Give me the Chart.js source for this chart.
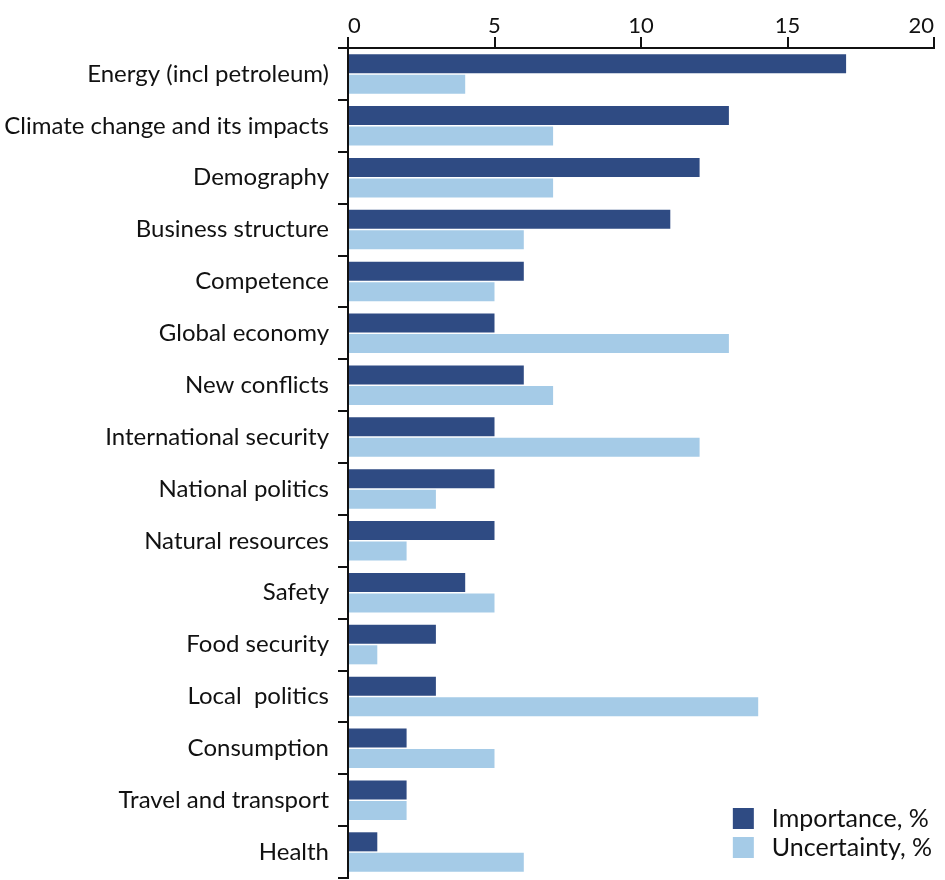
<!DOCTYPE html>
<html lang="en">
<head>
    <meta charset="UTF-8">
    <title>Importance and uncertainty of drivers</title>
    <script src="https://cdn.jsdelivr.net/npm/chart.js"></script>
    <style>
        body {
            margin: 0;
            background: #fff;
        }
        #chart {
            display: block;
        }
    </style>
</head>
<body>
    <canvas id="chart" width="945" height="880"></canvas>

    <script>
        const categories = [
            'Energy (incl petroleum)',
            'Climate change and its impacts',
            'Demography',
            'Business structure',
            'Competence',
            'Global economy',
            'New conflicts',
            'International security',
            'National politics',
            'Natural resources',
            'Safety',
            'Food security',
            'Local  politics',
            'Consumption',
            'Travel and transport',
            'Health'
        ];
        const importance = [17, 13, 12, 11, 6, 5, 6, 5, 5, 5, 4, 3, 3, 2, 2, 1];
        const uncertainty = [4, 7, 7, 6, 5, 13, 7, 12, 3, 2, 5, 1, 14, 5, 2, 6];
        const xTicks = [0, 5, 10, 15, 20];

        const FONT = 'Lato, "Open Sans", sans-serif';

        // legend drawn in the lower right corner of the plot area
        const cornerLegend = {
            id: 'cornerLegend',
            afterDraw(chart) {
                const ctx = chart.ctx;
                const area = chart.chartArea;
                const sets = chart.data.datasets;
                ctx.save();
                ctx.font = '25px ' + FONT;
                ctx.textBaseline = 'middle';
                ctx.textAlign = 'left';
                let maxW = 0;
                sets.forEach(ds => { maxW = Math.max(maxW, ctx.measureText(ds.label).width); });
                const textX = area.right - 2 - maxW;
                const boxX = textX - 39;
                const rowH = 29;
                const top = area.bottom - 70;
                sets.forEach((ds, i) => {
                    const y = top + i * rowH;
                    ctx.fillStyle = ds.backgroundColor;
                    ctx.fillRect(boxX, y, 21, 21);
                    ctx.fillStyle = '#111';
                    ctx.fillText(ds.label, textX, y + 11);
                });
                ctx.restore();
            }
        };

        new Chart(document.getElementById('chart'), {
            type: 'bar',
            data: {
                labels: categories,
                datasets: [{
                    label: 'Importance, %',
                    data: importance,
                    backgroundColor: '#2f4b83',
                    barPercentage: 0.93,
                    categoryPercentage: 0.79
                }, {
                    label: 'Uncertainty, %',
                    data: uncertainty,
                    backgroundColor: '#a5cbe7',
                    barPercentage: 0.93,
                    categoryPercentage: 0.79
                }]
            },
            options: {
                indexAxis: 'y',
                responsive: false,
                animation: false,
                layout: {
                    padding: { top: 0, right: 11, bottom: 2, left: 0 }
                },
                plugins: {
                    legend: { display: false },
                    tooltip: { enabled: false }
                },
                scales: {
                    x: {
                        position: 'top',
                        min: 0,
                        max: 20,
                        afterBuildTicks: scale => {
                            scale.ticks = xTicks.map(v => ({ value: v }));
                        },
                        afterFit: scale => {
                            scale.height = 48;
                            scale.paddingLeft = 0;
                            scale.paddingRight = 0;
                        },
                        grid: {
                            drawOnChartArea: false,
                            color: '#111',
                            lineWidth: 2,
                            tickLength: 11
                        },
                        border: { color: '#111', width: 2 },
                        ticks: {
                            color: '#111',
                            padding: -2,
                            align: 'inner',
                            font: { family: FONT, size: 22 }
                        }
                    },
                    y: {
                        z: 1,
                        afterFit: scale => {
                            scale.width = 348;
                            scale.paddingTop = 0;
                            scale.paddingBottom = 0;
                        },
                        grid: {
                            drawOnChartArea: false,
                            offset: true,
                            color: '#111',
                            lineWidth: 2,
                            tickLength: 10
                        },
                        border: { color: '#111', width: 2 },
                        ticks: {
                            color: '#111',
                            padding: 9,
                            font: { family: FONT, size: 24 }
                        }
                    }
                }
            },
            plugins: [cornerLegend]
        });
    </script>
</body>
</html>
